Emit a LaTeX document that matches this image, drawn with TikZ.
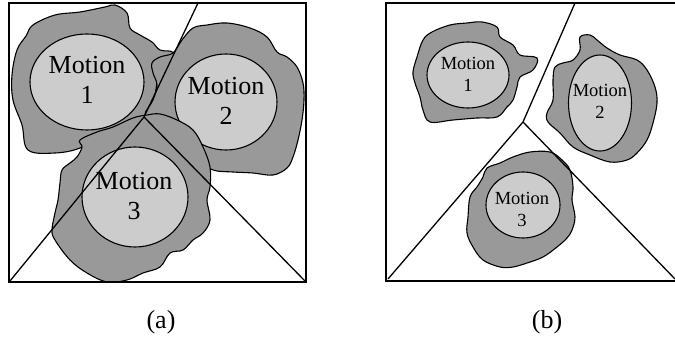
\documentclass[tikz,border=0pt]{standalone}
\usepackage{fontspec}
\setmainfont{Liberation Serif}
\definecolor{blobgray}{HTML}{999999}
\definecolor{coregray}{HTML}{CCCCCC}
\begin{document}
\begin{tikzpicture}[x=1pt,y=-1pt,
  blob/.style={draw=black,fill=blobgray,line width=1.1pt},
  core/.style={draw=black,fill=coregray,line width=1.1pt},
  frame/.style={draw=black,line width=2.8pt},
  part/.style={draw=black,line width=1.3pt},
  bigtxt/.style={align=center,font=\fontsize{26}{30}\selectfont,inner sep=0pt},
  smalltxt/.style={align=center,font=\fontsize{18.5}{22}\selectfont,inner sep=0pt},
  captxt/.style={font=\fontsize{26}{30}\selectfont,inner sep=0pt}]
\useasboundingbox (0,0) rectangle (675,347);
% ---------------- panel (a) ----------------
\draw[blob] plot[smooth cycle,tension=0.6] coordinates {
 (12,75) (17,50) (26,36) (33,25) (55,15) (80,12) (105,7) (115,5) (127,13) (130,28) (140,35) (152,42) (160,50) (173,53)
 (160,70) (155,95) (150,112) (130,125) (100,135) (80,148) (55,153) (28,150) (22,125) (13,100)};
\draw[core] (87,82) ellipse [x radius=57,y radius=48];
\node[bigtxt] (a1) at (87,80) {Motion\\1};
\draw[blob] plot[smooth cycle,tension=0.6] coordinates {
 (152,63) (160,57) (173,53) (182,40) (193,28) (207,25) (227,23) (250,28) (267,37) (277,52) (287,57) (297,67)
 (303,83) (304,100) (302,120) (298,140) (293,157) (287,168) (273,175) (253,173) (233,172) (213,170) (200,160)
 (180,140) (160,118) (145,115) (153,100) (157,85) (153,73)};
\draw[core] (226,102) ellipse [x radius=51,y radius=48];
\node[bigtxt] (a2) at (226,101) {Motion\\2};
\draw[blob] plot[smooth cycle,tension=0.6] coordinates {
 (80,140) (97,132) (113,127) (133,118) (147,115) (160,114) (177,120) (193,130) (203,147) (210,167) (210,187)
 (207,200) (210,220) (203,233) (193,240) (183,250) (170,253) (160,267) (143,273) (127,280) (107,282) (87,273)
 (70,260) (55,240) (52,230) (55,213) (58,200) (60,183) (62,170) (70,163) (77,157) (82,147)};
\draw[core] (135,197) ellipse [x radius=53,y radius=50];
\node[bigtxt] (a3) at (134,196) {Motion\\3};
\coordinate (aT) at (198,3);
\coordinate (aJ) at (144,117);
\coordinate (aL) at (10,281);
\coordinate (aR) at (305,281);
\draw[part] (aT) -- (aJ) -- (aL);
\draw[part] (aJ) -- (aR);
\draw[frame] (9,3) rectangle (306,282);
\node[captxt] (capa) at (161,322) {(a)};
% ---------------- panel (b) ----------------
\draw[blob] plot[smooth cycle,tension=0.6] coordinates {
 (413,72) (417,57) (423,40) (432,32) (450,25) (467,23) (482,22) (497,27) (500,37) (513,45) (520,55) (537,58)
 (533,70) (520,77) (517,87) (513,100) (507,107) (497,117) (477,118) (453,120) (430,122) (423,110) (420,97) (415,83)};
\draw[core] (468,75) ellipse [x radius=41,y radius=33];
\node[smalltxt] (b1) at (468,74) {Motion\\1};
\draw[blob] plot[smooth cycle,tension=0.6] coordinates {
 (580,37) (590,35) (597,40) (607,48) (620,55) (637,60) (647,70) (655,87) (657,103) (653,123) (647,140) (637,153)
 (627,160) (610,162) (590,155) (573,147) (560,133) (548,122) (547,113) (553,100) (553,80) (555,67) (563,63)
 (573,60) (580,50)};
\draw[core] (600,103) ellipse [x radius=31.5,y radius=48];
\node[smalltxt] (b2) at (600,101) {Motion\\2};
\draw[blob] plot[smooth cycle,tension=0.6] coordinates {
 (487,168) (500,163) (513,157) (530,152) (550,152) (562,160) (570,170) (573,187) (572,200) (575,217) (572,230)
 (567,238) (557,247) (543,257) (527,263) (513,267) (500,267) (483,260) (473,247) (467,233) (468,217) (470,197)
 (477,187) (483,177)};
\draw[core] (523,205) ellipse [x radius=37,y radius=33];
\node[smalltxt] (b3) at (522,209) {Motion\\3};
\coordinate (bT) at (575,3);
\coordinate (bJ) at (523,122);
\coordinate (bL) at (388,279);
\coordinate (bR) at (675,279);
\draw[part] (bT) -- (bJ) -- (bL);
\draw[part] (bJ) -- (bR);
\draw[frame] (677,3) -- (386,3) -- (386,281) -- (677,281);
\node[captxt] (capb) at (547,322) {(b)};
\end{tikzpicture}
\end{document}
